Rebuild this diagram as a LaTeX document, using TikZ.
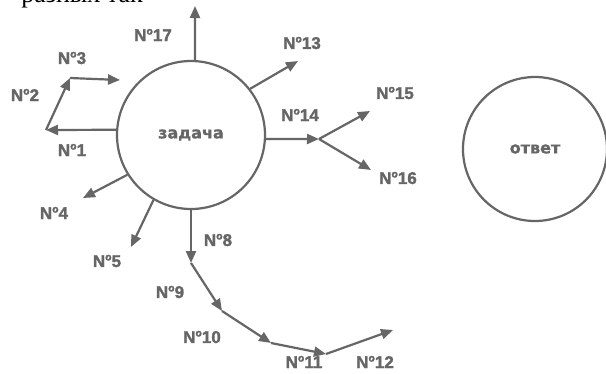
\documentclass[tikz,border=0pt]{standalone}
\usepackage{fontspec}
\setmainfont{Liberation Serif}
\newfontfamily\labelfont{Liberation Sans Bold}[FakeBold=1.6]
\newfontfamily\wordfont{DejaVu Sans Bold}[FakeBold=1]
\usetikzlibrary{arrows.meta}
\definecolor{ink}{HTML}{666666}
\newcommand\numsign{N\raisebox{0.38em}{\scalebox{0.62}{o}}}
\tikzset{
  x=1pt, y=-1pt,
  bubble/.style={circle, draw=ink, line width=2.2pt, inner sep=0pt, minimum size=#1},
  move/.style={draw=ink, line width=2.2pt, -{Triangle[length=12pt, width=10pt]}},
  tag/.style={text=ink, font=\labelfont\fontsize{17}{17}\selectfont, inner sep=0pt},
  word/.style={text=ink, font=\wordfont\fontsize{16}{16}\selectfont}
}
\begin{document}
\begin{tikzpicture}
\useasboundingbox (0,0) rectangle (606,373);
\fill[white] (0,0) rectangle (606,373);

% line of text from the page above, cut by the edge
\begin{scope}
  \clip (0,0) rectangle (606,373);
  \node[anchor=base east, inner sep=0pt, font=\fontsize{26}{26}\selectfont] (above) at (143,2) {разных так};
\end{scope}

% the two circles
\node[bubble=148pt] (task) at (191,135) {};
\node[word] (taskword) at (task.center) {задача};
\node[bubble=144pt] (answer) at (535,149) {};
\node[word] (answerword) at (answer.center) {ответ};

% arrow ends and turning points
\coordinate (p17) at (195,6);
\coordinate (p13) at (298,61);
\coordinate (j14) at (319,139);
\coordinate (p15) at (370,111);
\coordinate (p16) at (371,170);
\coordinate (j1) at (46,130);
\coordinate (j2) at (70,78);
\coordinate (p3) at (120,80);
\coordinate (p4) at (83,198);
\coordinate (p5) at (131,247);
\coordinate (j8) at (191,263);
\coordinate (j9) at (222,311);
\coordinate (j10) at (271,343);
\coordinate (j11) at (326,354);
\coordinate (p12) at (393,330);

% moves out of the task
\draw[move] (task.87) -- (p17);
\draw[move] (task.38) -- (p13);
\draw[move] (task.-3) -- (j14);
\draw[move] (j14) -- (p15);
\draw[move] (j14) -- (p16);
\draw[move] (task.176) -- (j1);
\draw[move] (j1) -- (j2);
\draw[move] (j2) -- (p3);
\draw[move] (task.212) -- (p4);
\draw[move] (task.240) -- (p5);
\draw[move] (task.270) -- (j8);
\draw[move] (j8) -- (j9);
\draw[move] (j9) -- (j10);
\draw[move] (j10) -- (j11);
\draw[move] (j11) -- (p12);

% move numbers
\node[tag] (t17) at (153,35) {\numsign17};
\node[tag] (t13) at (302,43) {\numsign13};
\node[tag] (t14) at (300,115) {\numsign14};
\node[tag] (t15) at (395,93) {\numsign15};
\node[tag] (t16) at (398,178) {\numsign16};
\node[tag] (t1) at (72,150) {\numsign1};
\node[tag] (t2) at (25,95) {\numsign2};
\node[tag] (t3) at (72,58) {\numsign3};
\node[tag] (t4) at (54,213) {\numsign4};
\node[tag] (t5) at (107,261) {\numsign5};
\node[tag] (t8) at (218,240) {\numsign8};
\node[tag] (t9) at (170,292) {\numsign9};
\node[tag] (t10) at (202,337) {\numsign10};
\node[tag] (t11) at (304,362) {\numsign11};
\node[tag] (t12) at (375,362) {\numsign12};
\end{tikzpicture}
\end{document}
